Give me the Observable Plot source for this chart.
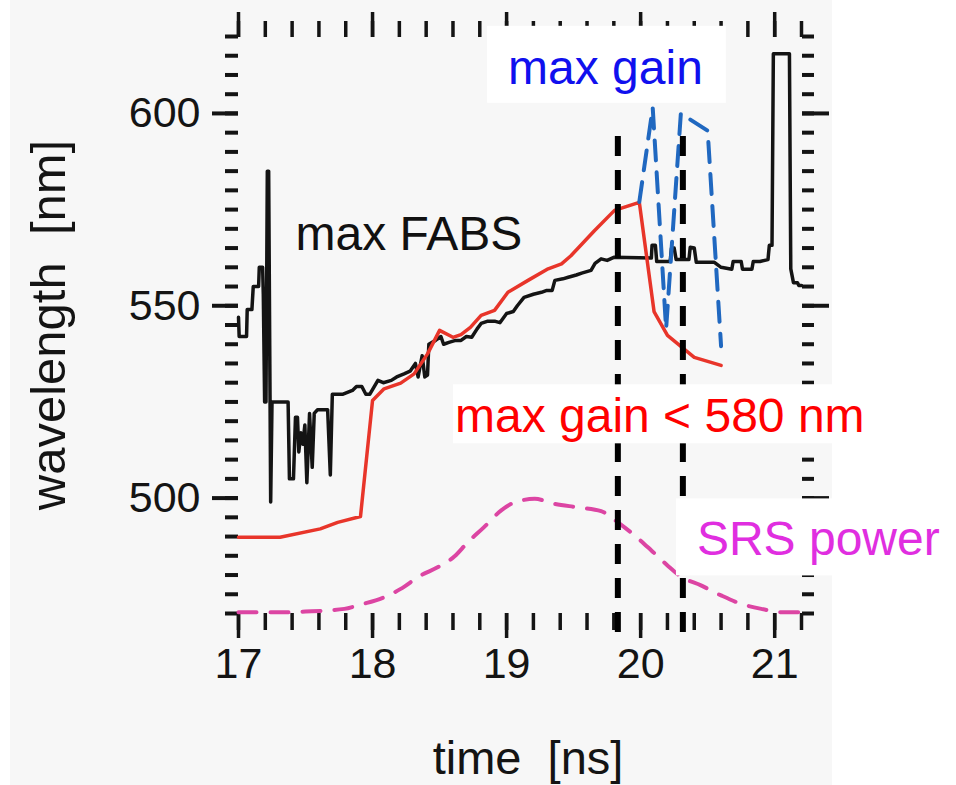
<!DOCTYPE html>
<html>
<head>
<meta charset="utf-8">
<script src="https://cdn.jsdelivr.net/npm/d3@7"></script>
<script src="https://cdn.jsdelivr.net/npm/@observablehq/plot@0.6"></script>
<style>
  body { margin: 0; background: #ffffff; }
</style>
</head>
<body>
<div id="chart"></div>
<script>
// ---------- data ----------
// black: max FABS wavelength (nm) vs time (ns)
const fabsTime = [17.00, 17.005, 17.06, 17.065, 17.10, 17.11, 17.15, 17.155, 17.18, 17.185, 17.195, 17.205, 17.215, 17.225, 17.24, 17.25,
  17.37, 17.38, 17.41, 17.425, 17.44, 17.45, 17.465, 17.48, 17.495, 17.51, 17.53, 17.55, 17.565, 17.59, 17.665, 17.685, 17.70,
  17.78, 17.85, 17.88, 17.92, 17.95, 17.98, 18.04, 18.08, 18.14, 18.18, 18.235, 18.28, 18.32, 18.34, 18.37, 18.39, 18.41, 18.42,
  18.47, 18.51, 18.53, 18.57, 18.62, 18.66, 18.70, 18.74, 18.78, 18.81, 18.86, 18.91, 18.95, 19.00, 19.05, 19.08, 19.13, 19.20,
  19.26, 19.30, 19.34, 19.36, 19.42, 19.46, 19.52, 19.56, 19.63, 19.66, 19.705, 19.75, 19.80, 20.08, 20.085, 20.11, 20.12, 20.22,
  20.23, 20.25, 20.265, 20.36, 20.37, 20.40, 20.415, 20.55, 20.60, 20.68, 20.69, 20.75, 20.76, 20.83, 20.84, 20.89, 20.95, 20.96,
  20.98, 20.99, 21.11, 21.12, 21.14, 21.17, 21.18, 21.20];
const fabsWave = [547, 542, 542, 549, 549, 555, 555, 560, 560, 553, 525, 525, 585, 585, 499, 525,
  525, 505, 505, 521, 521, 512, 517, 514, 519, 504, 522, 508, 522, 523, 523, 506, 527,
  527, 528, 529, 529, 527, 527, 530.6, 530, 530.6, 531.5, 532.3, 533, 535, 531.5, 537, 531.5, 532, 540,
  541, 542, 540, 540.5, 541, 541, 542, 541.8, 544, 545.4, 546, 546, 545.6, 548, 548.5, 550, 552.2, 553,
  553.5, 554, 554, 556.6, 557, 557.4, 558, 558.5, 559.2, 561, 562.2, 561.8, 562.6, 562.4, 565.7, 565.7, 561.5, 561.5,
  565, 565, 562, 562, 565.2, 565, 561.3, 561.3, 560, 559.5, 561.5, 561.5, 559.5, 559.5, 561.5, 561.5, 562, 565.7,
  565.7, 615.5, 615.5, 559.6, 556, 556, 555.3, 555.3];

// red: max gain < 580 nm
const gainTime = [17.00, 17.31, 17.61, 17.74, 17.91, 18.00, 18.086, 18.21, 18.31, 18.41, 18.50, 18.60, 18.66, 18.73, 18.81, 18.91,
  19.01, 19.16, 19.31, 19.41, 19.48, 19.655, 19.805, 19.99, 20.10, 20.20, 20.40, 20.60];
const gainWave = [489.8, 489.8, 492, 493.7, 495.2, 525.4, 528.4, 529.9, 532.3, 537.5, 543.6, 541.8, 542.5, 544.4, 547.5, 548.8,
  553.5, 556.6, 559.6, 560.9, 563, 569.5, 574.8, 576.9, 548.5, 542.3, 536.6, 534.5];

// blue dashed: max gain
const maxGainTime = [19.99, 20.09, 20.19, 20.30, 20.50, 20.60];
const maxGainWave = [577, 601.5, 544, 600, 595.5, 539.5];

// magenta dashed: SRS power (drawn in wavelength units)
const srsTime = [17.0, 17.3, 17.5, 17.79, 17.91, 18.086, 18.21, 18.36, 18.485, 18.61, 18.71, 18.83, 18.96, 19.06, 19.21, 19.36,
  19.53, 19.705, 19.83, 19.955, 20.08, 20.20, 20.30, 20.45, 20.60, 20.75, 20.90, 21.075, 21.2];
const srsWave = [470.3, 470.3, 470.5, 471.2, 472.3, 474.2, 476.4, 479.9, 482, 484.8, 488.5, 492.4, 496.8, 498.9, 499.8, 498.5,
  497.6, 496.6, 493.7, 490.3, 486.4, 482.5, 479.6, 477.3, 474.7, 472.5, 471.2, 470.3, 470.3];

// black dashed vertical markers
const markerTimes = [19.83, 20.315];
const markerTop = 594;
const markerBottom = 463;

// annotations
const annoLabels = ["max FABS", "max gain", "max gain < 580 nm", "SRS power"];
const annoTime = [17.426, 19.011, 18.615, 20.42];
const annoWave = [564.4, 607.7, 517.1, 485.1];

// ticks
const xMajorTicks = [17, 18, 19, 20, 21];
const xMinorTicks = d3.range(85, 107).map(i => i / 5);
const yMajorTicks = [500, 550, 600];
const yMinorTicks = d3.range(470, 621, 5);

// ---------- styles ----------
const annoColor = {"max FABS": "#111111", "max gain": "#1010ee", "max gain < 580 nm": "#ff0000", "SRS power": "#e02ee0"};
const boxPad = {
  "max gain": {l: 21, r: 23, t: 15, b: 9},
  "max gain < 580 nm": {l: 2, r: 8, t: 5, b: 1},
  "SRS power": {l: 21, r: 20, t: 14, b: 10}
};
const ink = "#141414";

const fabs = fabsTime.map((t, i) => ({t, w: fabsWave[i]}));
const gain = gainTime.map((t, i) => ({t, w: gainWave[i]}));
const maxGain = maxGainTime.map((t, i) => ({t, w: maxGainWave[i]}));
const srs = srsTime.map((t, i) => ({t, w: srsWave[i]}));

const annoMarks = annoLabels.map((label, i) => Plot.text([i], {
  x: j => annoTime[j], y: j => annoWave[j], text: j => annoLabels[j],
  fill: annoColor[label], fontSize: 48, textAnchor: "start", lineAnchor: "bottom"
}));

const plot = Plot.plot({
  width: 956,
  height: 785,
  marginLeft: 238,
  marginRight: 155,
  marginTop: 36,
  marginBottom: 172,
  x: {domain: [17, 21.2]},
  y: {domain: [470, 620]},
  style: {
    fontFamily: "'Liberation Sans', Arimo, Arial, Helvetica, sans-serif",
    background: "linear-gradient(90deg, #ffffff 0 10px, #f7f7f7 10px 832px, #ffffff 832px)",
    color: ink
  },
  marks: [
    // bottom axis
    Plot.axisX(xMinorTicks, {anchor: "bottom", tickSize: 17, stroke: ink, strokeWidth: 3.5, fill: "none", label: null}),
    Plot.axisX(xMajorTicks, {anchor: "bottom", tickSize: 25, tickPadding: 9, tickFormat: "d", stroke: ink, strokeWidth: 3.5, fill: ink, fontSize: 43, label: null}),
    // top axis
    Plot.axisX(xMinorTicks, {anchor: "top", tickSize: 16, stroke: ink, strokeWidth: 3.5, fill: "none", label: null}),
    Plot.axisX(xMajorTicks, {anchor: "top", tickSize: 25, stroke: ink, strokeWidth: 3.5, fill: "none", label: null}),
    // left axis
    Plot.axisY(yMinorTicks, {anchor: "left", tickSize: 13, stroke: ink, strokeWidth: 4, fill: "none", label: null}),
    Plot.axisY(yMajorTicks, {anchor: "left", tickSize: 26, tickPadding: 12, tickFormat: "d", stroke: ink, strokeWidth: 4, fill: ink, fontSize: 43, label: null}),
    // right axis
    Plot.axisY(yMinorTicks, {anchor: "right", tickSize: 12, stroke: ink, strokeWidth: 4, fill: "none", label: null}),
    Plot.axisY(yMajorTicks, {anchor: "right", tickSize: 27, stroke: ink, strokeWidth: 4, fill: "none", label: null}),

    // curves
    Plot.line(srs, {x: "t", y: "w", stroke: "#dc45a3", strokeWidth: 4, strokeDasharray: "18,14", strokeLinecap: "round", curve: "monotone-x"}),
    Plot.line(fabs, {x: "t", y: "w", stroke: ink, strokeWidth: 3.5, strokeLinejoin: "round"}),
    Plot.line(gain, {x: "t", y: "w", stroke: "#e8352a", strokeWidth: 3.5, strokeLinejoin: "round"}),
    Plot.line(maxGain, {x: "t", y: "w", stroke: "#2068c0", strokeWidth: 4, strokeDasharray: "20,12"}),
    Plot.ruleX(markerTimes, {y1: markerTop, y2: markerBottom, stroke: "#000000", strokeWidth: 6, strokeDasharray: "20,14"}),

    // axis titles
    Plot.text(["wavelength\u00a0\u00a0[nm]"], {frameAnchor: "left", rotate: -90, dx: -189, fontSize: 49, textAnchor: "middle", lineAnchor: "middle", fill: ink}),
    Plot.text(["time\u00a0\u00a0[ns]"], {frameAnchor: "bottom", dx: 8, dy: 160, fontSize: 47, textAnchor: "middle", lineAnchor: "bottom", fill: ink}),

    // annotations
    ...annoMarks
  ]
});

document.getElementById("chart").append(plot);

// white boxes behind the boxed annotations (sized from each label's own text box)
d3.select(plot).selectAll("text").each(function() {
  const pad = boxPad[this.textContent];
  if (!pad) return;
  const b = this.getBBox();
  const rect = document.createElementNS("http://www.w3.org/2000/svg", "rect");
  rect.setAttribute("x", b.x - pad.l);
  rect.setAttribute("y", b.y - pad.t);
  rect.setAttribute("width", b.width + pad.l + pad.r);
  rect.setAttribute("height", b.height + pad.t + pad.b);
  rect.setAttribute("fill", "#ffffff");
  rect.setAttribute("stroke", "none");
  const tr = this.getAttribute("transform");
  if (tr) rect.setAttribute("transform", tr);
  this.parentNode.insertBefore(rect, this);
});
</script>
</body>
</html>
